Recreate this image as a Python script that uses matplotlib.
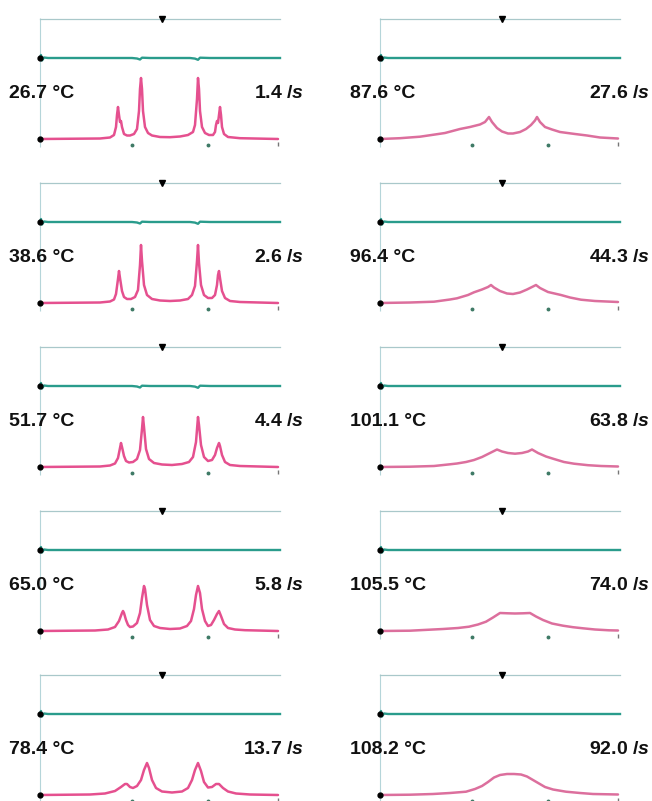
import matplotlib
matplotlib.use("Agg")
import matplotlib.pyplot as plt

# ---------------- data ----------------
temperatures = ["26.7", "38.6", "51.7", "65.0", "78.4",
                "87.6", "96.4", "101.1", "105.5", "108.2"]
rates = ["1.4", "2.6", "4.4", "5.8", "13.7",
         "27.6", "44.3", "63.8", "74.0", "92.0"]

# spectra: (frequency offset, intensity) pairs
spectrum_26_7 = [(0, 0), (60, 0.5), (70, 1.5), (74, 4), (76, 12), (77, 24), (78, 32), (79, 24), (80, 17),
                 (81, 18), (82, 12), (84, 5), (87, 3.5), (90, 3.5), (94, 5), (97, 10), (99, 28), (100, 50),
                 (101, 61), (102, 50), (103, 28), (105, 12), (108, 6), (112, 3.5), (120, 2), (130, 1.8),
                 (140, 2.5), (148, 4), (153, 7), (155, 14), (157, 40), (158, 61), (159, 50), (160, 28),
                 (162, 12), (165, 6), (169, 4), (173, 4), (175, 7), (176, 14), (177, 18), (178, 16),
                 (179, 24), (180, 32), (181, 24), (182, 12), (184, 5), (188, 2), (200, 0.8), (238, 0)]
spectrum_38_6 = [(0, 0), (60, 0.5), (70, 1.5), (74, 3.5), (76, 9), (78, 24), (79, 32), (80, 25), (82, 12),
                 (84, 6), (87, 4), (91, 4), (95, 6), (98, 13), (100, 38), (101, 58), (102, 42), (104, 18),
                 (107, 8), (112, 4), (120, 2.5), (130, 2), (140, 2.5), (148, 4), (152, 8), (155, 17),
                 (157, 42), (158, 58), (159, 40), (161, 18), (164, 8), (168, 5), (172, 5), (175, 8),
                 (177, 18), (178, 28), (179, 32), (180, 25), (182, 12), (185, 5), (190, 2), (200, 1), (238, 0)]
spectrum_51_7 = [(0, 0), (60, 0.5), (70, 1.5), (75, 3.5), (78, 9), (80, 19), (81, 24), (82, 20), (84, 11),
                 (86, 6), (89, 4.5), (93, 5), (97, 8), (100, 17), (102, 38), (103, 50), (104, 40), (106, 18),
                 (109, 8), (114, 4), (122, 2.5), (132, 2), (142, 3), (149, 5), (153, 10), (156, 25),
                 (158, 50), (159, 42), (161, 22), (164, 10), (168, 6), (172, 7), (175, 12), (177, 19),
                 (179, 24), (180, 21), (182, 12), (185, 5), (190, 2), (200, 1), (238, 0)]
spectrum_65_0 = [(0, 0), (55, 0.5), (68, 1.5), (75, 4), (79, 10), (82, 18), (83, 20), (84, 18), (86, 11),
                 (88, 6), (90, 4), (93, 4.5), (97, 8), (100, 18), (102, 33), (104, 45), (105, 42), (107, 26),
                 (110, 11), (114, 5), (120, 3), (130, 2), (140, 2.5), (147, 5), (151, 10), (154, 22),
                 (156, 36), (158, 45), (160, 38), (162, 22), (165, 10), (168, 5), (171, 6), (174, 11),
                 (177, 17), (179, 20), (181, 15), (184, 7), (188, 3), (195, 1.5), (205, 0.8), (238, 0)]
spectrum_78_4 = [(0, 0), (50, 0.5), (65, 1.5), (75, 4), (81, 8), (85, 11), (87, 11), (90, 8), (93, 7),
                 (97, 9), (101, 15), (104, 25), (107, 32), (109, 27), (112, 15), (116, 7), (122, 3.5),
                 (132, 2.5), (142, 3.5), (148, 7), (152, 15), (155, 25), (158, 32), (161, 24), (164, 13),
                 (168, 7.5), (172, 8), (176, 11), (179, 11), (183, 7), (188, 3.5), (196, 1.5), (210, 0.5),
                 (238, 0)]
spectrum_87_6 = [(0, 0), (20, 0.8), (40, 2.3), (55, 4.5), (65, 6), (80, 10), (90, 12), (100, 14.5),
                 (105, 17), (109, 22), (112, 17), (117, 11), (122, 7.5), (128, 5.5), (133, 5.5), (140, 7),
                 (146, 10), (151, 14), (155, 18.5), (157, 22), (160, 17), (165, 12), (172, 9.5), (180, 7),
                 (195, 5), (207, 3.5), (220, 1.5), (238, 0.5)]
spectrum_96_4 = [(0, 0), (30, 0.5), (54, 1.3), (70, 3.5), (77, 4.7), (88, 8), (94, 10.7), (102, 13.5),
                 (108, 16), (111, 18), (114, 15.5), (120, 12), (127, 9.5), (133, 9), (140, 10.5),
                 (147, 13.5), (153, 16.5), (156, 18), (160, 15), (168, 11), (181, 8), (190, 5.5),
                 (201, 3.3), (215, 2), (238, 1)]
spectrum_101_1 = [(0, 0), (30, 0.3), (54, 1), (70, 2.7), (77, 3.5), (86, 5), (94, 7), (102, 10), (110, 14),
                  (117, 17.5), (122, 15.5), (128, 14), (135, 13.3), (142, 14), (148, 15.5), (152, 17.5),
                  (158, 14), (166, 10.5), (174, 8), (184, 5), (194, 3.3), (208, 1.8), (221, 1), (238, 0.5)]
spectrum_105_5 = [(0, 0), (30, 0.3), (63, 2), (78, 3), (89, 4.3), (98, 6.5), (106, 9.3), (113, 13.5),
                  (120, 18), (128, 17.7), (135, 17.5), (143, 17.7), (150, 18), (156, 14.5), (163, 11),
                  (172, 7.5), (183, 5.3), (193, 3.8), (203, 2.7), (215, 1.5), (229, 0.7), (238, 0.5)]
spectrum_108_2 = [(0, 0), (30, 0.3), (53, 1), (70, 2), (86, 3.3), (95, 6), (102, 9), (108, 13), (114, 17.5),
                  (120, 20), (127, 21), (134, 21), (141, 20.5), (147, 18.5), (153, 15), (159, 11.5),
                  (165, 8), (173, 5.5), (186, 3.3), (200, 2), (213, 1), (238, 0.5)]

# second (teal) trace and reference trace
teal_trace_wiggly = [(0, 0), (1, 3), (2, -2.5), (4, 0.5), (8, 0), (92, 0), (97, -0.5), (100, -1.5), (102, 0.3),
                     (110, 0), (150, 0), (155, -0.6), (158, -1.8), (160, 0.3), (170, 0), (240, 0)]
teal_trace_flat = [(0, 0), (1, 3), (2, -2.5), (4, 0.5), (8, 0), (240, 0)]
reference_marker_x = 122
tick_positions = [92, 168]

spectra = [spectrum_26_7, spectrum_38_6, spectrum_51_7, spectrum_65_0, spectrum_78_4,
           spectrum_87_6, spectrum_96_4, spectrum_101_1, spectrum_105_5, spectrum_108_2]
teal_traces = [teal_trace_wiggly, teal_trace_wiggly, teal_trace_wiggly, teal_trace_flat, teal_trace_flat,
               teal_trace_flat, teal_trace_flat, teal_trace_flat, teal_trace_flat, teal_trace_flat]

# ---------------- layout ----------------
plt.rcParams['font.family'] = ['Liberation Sans', 'DejaVu Sans']
plt.rcParams['mathtext.fontset'] = 'custom'
plt.rcParams['mathtext.it'] = 'Liberation Sans:italic:bold'
plt.rcParams['mathtext.rm'] = 'Liberation Sans:bold'

W, H = 652, 801
fig = plt.figure(figsize=(W / 100, H / 100), dpi=100)
fig.patch.set_facecolor('white')

col_left_px = [40, 380]
row_base_px = [139 + 164 * r for r in range(5)]
x_lo, x_hi = -6, 246
y_lo, y_hi = -12, 127
teal_offset = 81
top_offset = 120

pink_cols = ['#e5508f', '#dc6f9d']
teal_col = '#2a9c8c'
top_col = '#a9c8ca'
axis_col = '#b5d5d9'

for i in range(10):
    col = i // 5
    row = i % 5
    base = row_base_px[row]
    left = (col_left_px[col] + x_lo) / W
    bottom = (H - (base - y_lo)) / H
    ax = fig.add_axes([left, bottom, (x_hi - x_lo) / W, (y_hi - y_lo) / H])
    ax.set_xlim(x_lo, x_hi)
    ax.set_ylim(y_lo, y_hi)
    ax.axis('off')

    # left axis line
    ax.vlines(0, -8, top_offset + 1, color=axis_col, lw=0.8)
    # reference (top) trace
    ax.plot([0, 240], [top_offset, top_offset], color=top_col, lw=0.9)
    ax.plot([reference_marker_x], [top_offset], marker='v', color='black', ms=5, clip_on=False)
    # teal trace
    tx = [p[0] for p in teal_traces[i]]
    ty = [p[1] + teal_offset for p in teal_traces[i]]
    ax.plot(tx, ty, color=teal_col, lw=1.7, solid_joinstyle='round')
    ax.plot([0], [teal_offset], 'o', color='black', ms=3.5)
    # spectrum
    sx = [p[0] for p in spectra[i]]
    sy = [p[1] for p in spectra[i]]
    ax.plot(sx, sy, color=pink_cols[col], lw=1.8, solid_joinstyle='round', solid_capstyle='round')
    ax.plot([0], [0], 'o', color='black', ms=3.5)
    # small ticks under the baseline
    ax.plot(tick_positions, [-6, -6], 'o', color='#3f7a66', ms=1.8, clip_on=False)
    ax.plot([238], [-5], marker='|', color='#777777', ms=3, clip_on=False)

    # labels
    ty_lab = 1 - (base - 45) / H
    if col == 0:
        xt, xr = 9, 304
    else:
        xt, xr = 350, 650
    fig.text(xt / W, ty_lab, f"{temperatures[i]} °C", ha='left', va='center',
             fontsize=14, fontweight='bold', color='#111111')
    fig.text(xr / W, ty_lab, f"{rates[i]} " + r"$\mathit{/s}$", ha='right', va='center',
             fontsize=14, fontweight='bold', color='#111111')

fig.savefig('out.png', dpi=100, facecolor='white')
